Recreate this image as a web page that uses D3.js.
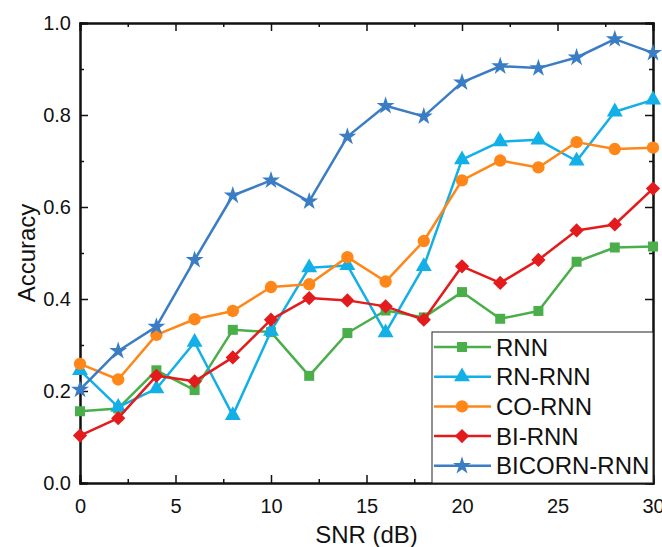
<!DOCTYPE html>
<html>
<head>
<meta charset="utf-8">
<script src="https://cdn.jsdelivr.net/npm/d3@7"></script>
<style>
  body { margin: 0; background: #fff; }
  text { font-family: "Liberation Sans", Arial, sans-serif; fill: #111; }
</style>
</head>
<body>
<div id="chart"></div>
<script>
// data
const snr = [0, 2, 4, 6, 8, 10, 12, 14, 16, 18, 20, 22, 24, 26, 28, 30];
const rnn = [0.156, 0.162, 0.245, 0.202, 0.333, 0.328, 0.233, 0.326, 0.375, 0.360, 0.415, 0.357, 0.374, 0.481, 0.512, 0.514];
const rnRnn = [0.245, 0.165, 0.205, 0.306, 0.147, 0.330, 0.468, 0.473, 0.327, 0.471, 0.703, 0.742, 0.746, 0.700, 0.807, 0.833];
const coRnn = [0.259, 0.225, 0.322, 0.356, 0.374, 0.426, 0.432, 0.491, 0.438, 0.526, 0.658, 0.701, 0.686, 0.741, 0.726, 0.729];
const biRnn = [0.103, 0.141, 0.233, 0.221, 0.273, 0.355, 0.402, 0.397, 0.384, 0.355, 0.471, 0.435, 0.485, 0.549, 0.562, 0.640];
const bicornRnn = [0.203, 0.287, 0.340, 0.485, 0.625, 0.658, 0.612, 0.753, 0.820, 0.797, 0.871, 0.906, 0.902, 0.925, 0.965, 0.935];
const seriesNames = ["RNN", "RN-RNN", "CO-RNN", "BI-RNN", "BICORN-RNN"];
const seriesColors = ["#4aae4a", "#12b0e6", "#ff8719", "#e31b1c", "#3a7dc4"];
const xTicks = [0, 5, 10, 15, 20, 25, 30];
const yTicks = [0.0, 0.2, 0.4, 0.6, 0.8, 1.0];

const allSeries = [rnn, rnRnn, coRnn, biRnn, bicornRnn].map((vals, i) => ({
  name: seriesNames[i],
  color: seriesColors[i],
  values: vals.map((v, j) => ({ x: snr[j], y: v }))
}));

const width = 662, height = 547;
const margin = { top: 23, right: 9, bottom: 64, left: 80 };
const innerW = width - margin.left - margin.right;
const innerH = height - margin.top - margin.bottom;

const svg = d3.select('#chart')
  .append('svg')
    .attr('width', width)
    .attr('height', height);

const g = svg.append('g')
  .attr('transform', `translate(${margin.left},${margin.top})`);

const x = d3.scaleLinear().domain([0, 30]).range([0, innerW]);
const y = d3.scaleLinear().domain([0, 1]).range([innerH, 0]);

// minor ticks (inward)
const xMinor = d3.range(2.5, 30, 5);
const yMinor = d3.range(0.1, 1, 0.2);

// bottom axis
const xAxis = g.append('g')
  .attr('transform', `translate(0,${innerH})`)
  .call(d3.axisBottom(x).tickValues(xTicks).tickSize(-8).tickPadding(16).tickFormat(d3.format('d')));
xAxis.selectAll('text').attr('font-size', 20);
g.append('g')
  .attr('transform', `translate(0,${innerH})`)
  .call(d3.axisBottom(x).tickValues(xMinor).tickSize(-4).tickFormat(''));

// top axis
g.append('g')
  .call(d3.axisTop(x).tickValues(xTicks).tickSize(-8).tickFormat(''));
g.append('g')
  .call(d3.axisTop(x).tickValues(xMinor).tickSize(-4).tickFormat(''));

// left axis
const yAxis = g.append('g')
  .call(d3.axisLeft(y).tickValues(yTicks).tickSize(-8).tickPadding(9).tickFormat(d3.format('.1f')));
yAxis.selectAll('text').attr('font-size', 20);
g.append('g')
  .call(d3.axisLeft(y).tickValues(yMinor).tickSize(-4).tickFormat(''));

// right axis
g.append('g')
  .attr('transform', `translate(${innerW},0)`)
  .call(d3.axisRight(y).tickValues(yTicks).tickSize(-8).tickFormat(''));
g.append('g')
  .attr('transform', `translate(${innerW},0)`)
  .call(d3.axisRight(y).tickValues(yMinor).tickSize(-4).tickFormat(''));

g.selectAll('.domain').attr('stroke', '#111').attr('stroke-width', 2);
g.selectAll('.tick line').attr('stroke', '#111').attr('stroke-width', 1.5);

// axis titles
svg.append('text')
  .attr('x', margin.left + innerW / 2)
  .attr('y', 543)
  .attr('text-anchor', 'middle')
  .attr('font-size', 24)
  .text('SNR (dB)');

svg.append('text')
  .attr('transform', `translate(35,${margin.top + innerH / 2}) rotate(-90)`)
  .attr('text-anchor', 'middle')
  .attr('font-size', 24)
  .text('Accuracy');

// markers
const symbols = [
  d3.symbol().type(d3.symbolSquare).size(100),
  d3.symbol().type(d3.symbolTriangle).size(110),
  d3.symbol().type(d3.symbolCircle).size(120),
  d3.symbol().type(d3.symbolDiamond2).size(130),
  d3.symbol().type(d3.symbolStar).size(100)
];

const line = d3.line().x(d => x(d.x)).y(d => y(d.y));

const plot = g.append('g');
allSeries.forEach((s, i) => {
  plot.append('path')
    .datum(s.values)
    .attr('fill', 'none')
    .attr('stroke', s.color)
    .attr('stroke-width', 2.5)
    .attr('stroke-linejoin', 'round')
    .attr('d', line);
  plot.selectAll('.m' + i)
    .data(s.values)
    .join('path')
      .attr('class', 'm' + i)
      .attr('transform', d => `translate(${x(d.x)},${y(d.y)})`)
      .attr('d', symbols[i]())
      .attr('fill', s.color);
});

// legend
const legendX = 432, legendY = 332, legendW = 221, legendH = 151;
svg.append('rect')
  .attr('x', legendX)
  .attr('y', legendY)
  .attr('width', legendW)
  .attr('height', legendH)
  .attr('fill', '#fff')
  .attr('stroke', '#222')
  .attr('stroke-width', 1);

const rowGap = 29.7;
allSeries.forEach((s, i) => {
  const ry = 347 + rowGap * i;
  svg.append('line')
    .attr('x1', 434).attr('x2', 491)
    .attr('y1', ry).attr('y2', ry)
    .attr('stroke', s.color)
    .attr('stroke-width', 2.5);
  svg.append('path')
    .attr('transform', `translate(462,${ry})`)
    .attr('d', symbols[i]())
    .attr('fill', s.color);
  svg.append('text')
    .attr('x', 496)
    .attr('y', ry + 8.5)
    .attr('font-size', 24)
    .text(s.name);
});
</script>
</body>
</html>
